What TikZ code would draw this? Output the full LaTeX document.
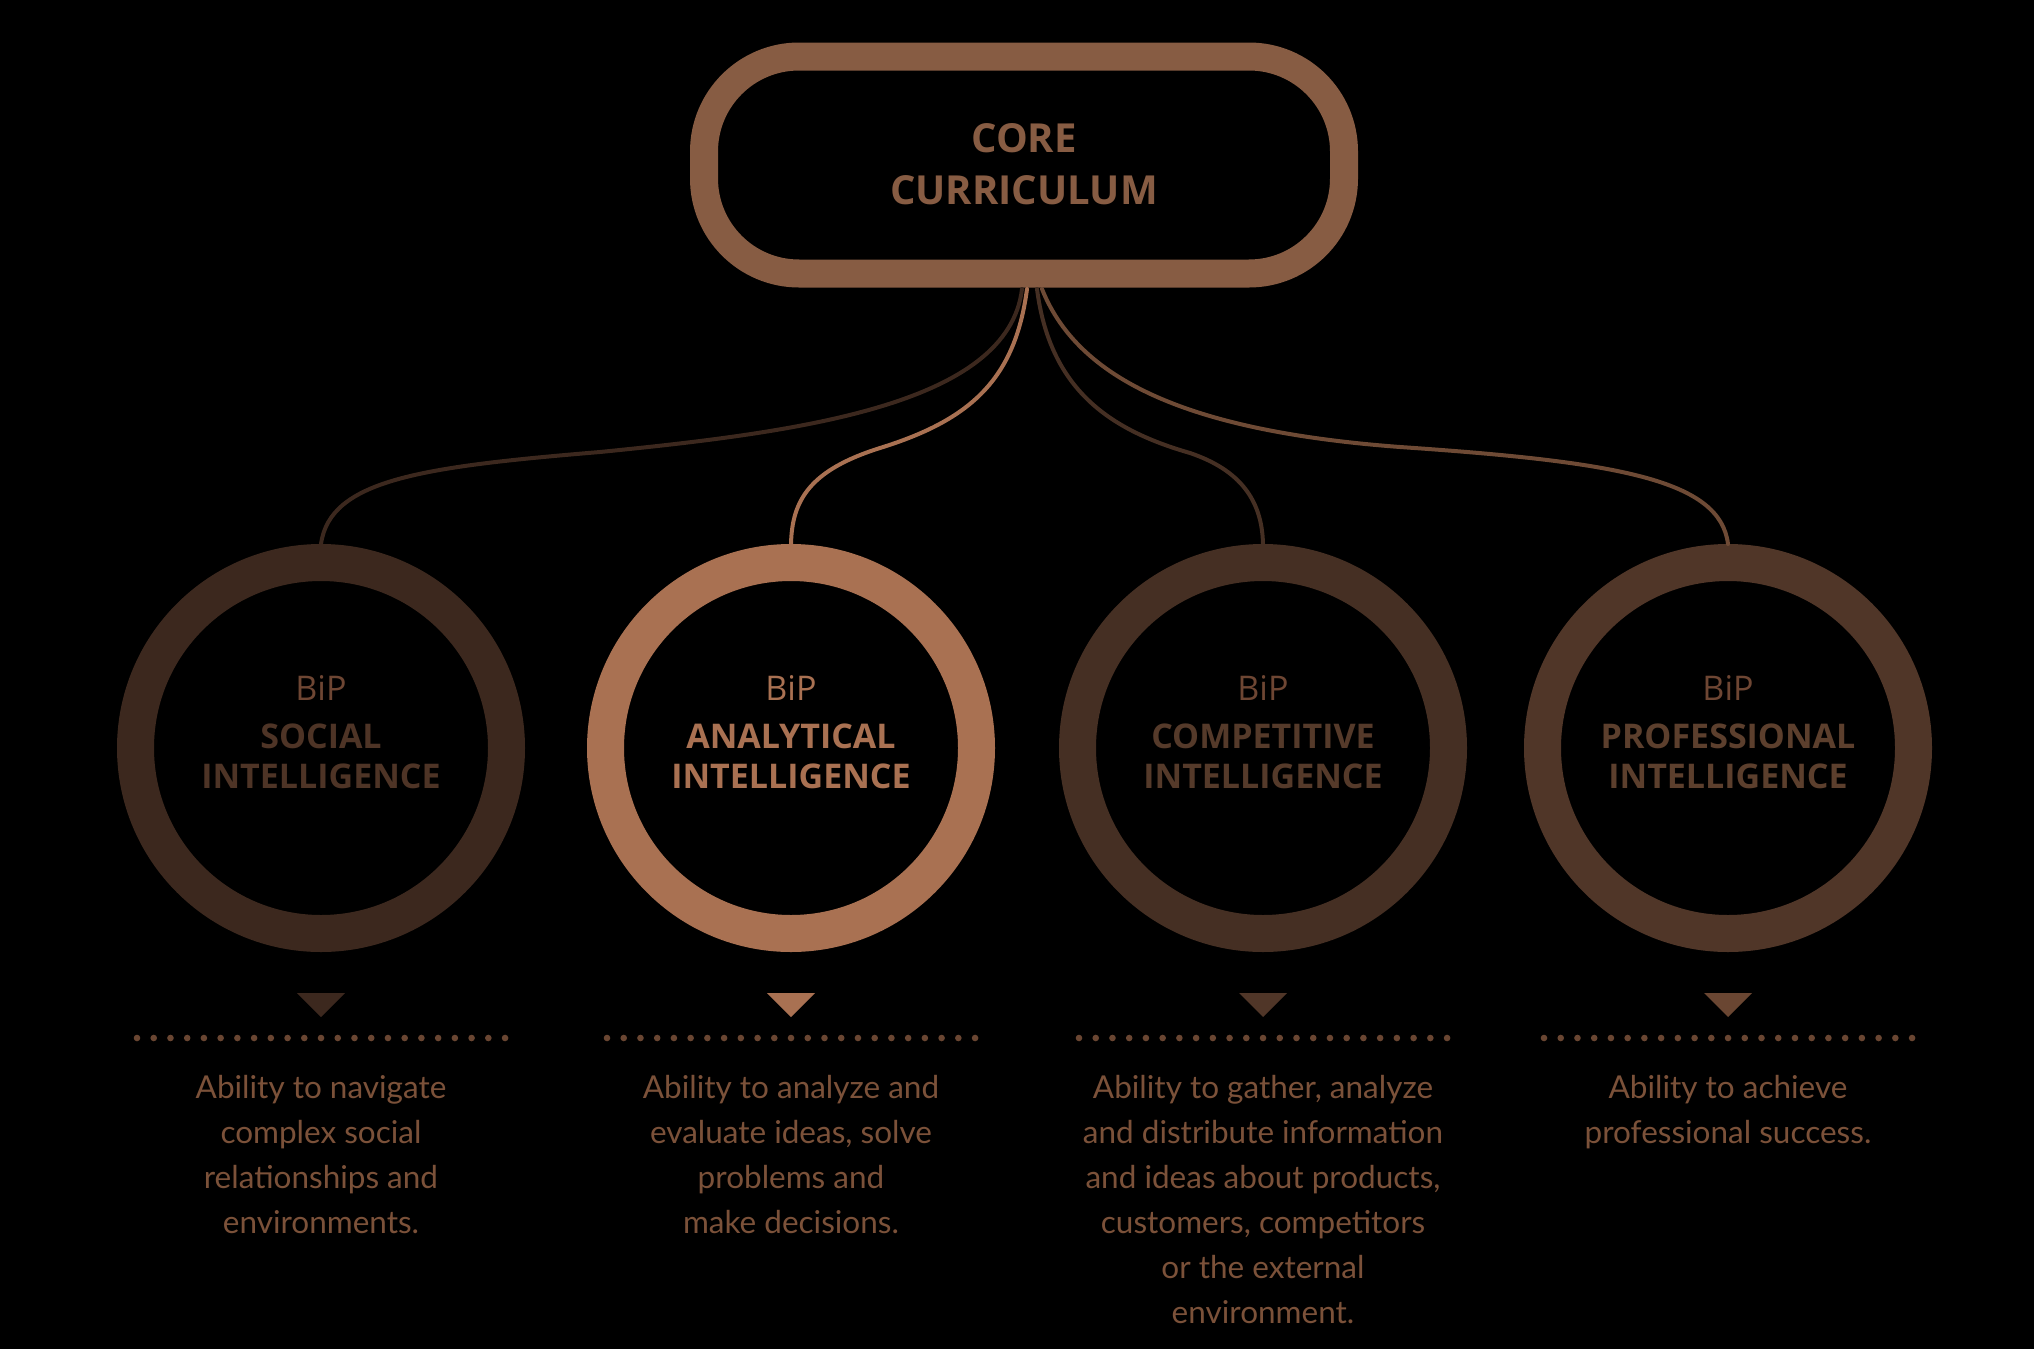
\documentclass[tikz,border=0pt]{standalone}
\usepackage{fontspec}
\setmainfont{Lato}
\newfontfamily\osans{Open Sans}
\definecolor{corec}{HTML}{875C43}
\definecolor{cA}{HTML}{3C281E}
\definecolor{cB}{HTML}{A97152}
\definecolor{cC}{HTML}{452F23}
\definecolor{cD}{HTML}{503628}
\definecolor{tA}{HTML}{4E3426}
\definecolor{tC}{HTML}{553A2A}
\definecolor{tD}{HTML}{5C3F2D}
\definecolor{bipA}{HTML}{6E4633}
\definecolor{descc}{HTML}{7B5139}
\definecolor{dotc}{HTML}{6A4632}
\definecolor{cvD}{HTML}{6E4A35}
\begin{document}
\begin{tikzpicture}[x=1pt,y=-1pt,
  corebox/.style={draw=corec, line width=28pt, rounded corners=95pt, minimum width=640pt, minimum height=217pt, inner sep=0pt},
  ring/.style={circle, line width=37pt, minimum size=371pt, inner sep=0pt},
  coretxt/.style={anchor=base, inner sep=0pt, text=corec, font=\osans\bfseries\fontsize{40}{50}\selectfont},
  bigtxt/.style={anchor=base, inner sep=0pt, font=\osans\bfseries\fontsize{34}{40}\selectfont},
  biptxt/.style={anchor=base, inner sep=0pt, font=\osans\fontsize{34}{40}\selectfont},
  desc/.style={anchor=north, align=center, inner sep=0pt, text=descc, font=\fontsize{31.5}{45}\selectfont},
  conn/.style={line width=4pt, line cap=round},
  dotc/.style={fill=dotc},
  tri/.style={line join=round}
]
\fill[black] (0,0) rectangle (2034,1349);
\useasboundingbox (0,0) rectangle (2034,1349);

% core box
\node[corebox] (core) at (1024,165) {};
\node[coretxt] (coreA) at (1024,152) {CORE};
\node[coretxt] (coreB) at (1024,204) {CURRICULUM};

% circles
\node[ring, draw=cA] (c1) at (321,748) {};
\node[ring, draw=cB] (c2) at (791,748) {};
\node[ring, draw=cC] (c3) at (1263,748) {};
\node[ring, draw=cD] (c4) at (1728,748) {};

% connectors
\coordinate (s1) at (1022,289);
\coordinate (s2) at (1027,289);
\coordinate (s3) at (1037,289);
\coordinate (s4) at (1042,289);
\coordinate (m1) at (600,452);
\coordinate (m2) at (880,448);
\coordinate (m3) at (1190,453);
\coordinate (m4) at (1400,447);
\draw[conn, draw=cA] (s1) .. controls (1008,405) and (800,432) .. (m1) .. controls (420,467) and (330,480) .. (c1.north);
\draw[conn, draw=cB] (s2) .. controls (1015,380) and (970,420) .. (m2) .. controls (810,470) and (792,500) .. (c2.north);
\draw[conn, draw=cC] (s3) .. controls (1050,390) and (1110,430) .. (m3) .. controls (1240,470) and (1262,500) .. (c3.north);
\draw[conn, draw=cvD] (s4) .. controls (1080,385) and (1200,432) .. (m4) .. controls (1620,462) and (1720,480) .. (c4.north);

% circle texts
\node[biptxt, text=bipA] (b1) at (321,700) {BiP};
\node[bigtxt, text=tA] (l1a) at (321,748) {SOCIAL};
\node[bigtxt, text=tA] (l1b) at (321,788) {INTELLIGENCE};
\node[biptxt, text=cB] (b2) at (791,700) {BiP};
\node[bigtxt, text=cB] (l2a) at (791,748) {ANALYTICAL};
\node[bigtxt, text=cB] (l2b) at (791,788) {INTELLIGENCE};
\node[biptxt, text=bipA] (b3) at (1263,700) {BiP};
\node[bigtxt, text=tC] (l3a) at (1263,748) {COMPETITIVE};
\node[bigtxt, text=tC] (l3b) at (1263,788) {INTELLIGENCE};
\node[biptxt, text=bipA] (b4) at (1728,700) {BiP};
\node[bigtxt, text=tD] (l4a) at (1728,748) {PROFESSIONAL};
\node[bigtxt, text=tD] (l4b) at (1728,788) {INTELLIGENCE};

% triangles
\fill[tri, fill=cA] (297,993) -- (345,993) -- (321,1017) -- cycle;
\fill[tri, fill=cB] (767,993) -- (815,993) -- (791,1017) -- cycle;
\fill[tri, fill=cD] (1239,993) -- (1287,993) -- (1263,1017) -- cycle;
\fill[tri, fill=dotc] (1704,993) -- (1752,993) -- (1728,1017) -- cycle;

% dotted rules
\foreach \xs in {137,607,1079,1544}{
  \foreach \i in {0,...,22}{
    \fill[dotc] (\xs+\i*16.73,1038) circle (3.3pt);
  }
}

% descriptions
\node[desc] (d1) at (321,1075) {Ability to navigate\\complex social\\relationships and\\environments.};
\node[desc] (d2) at (791,1075) {Ability to analyze and\\evaluate ideas, solve\\problems and\\make decisions.};
\node[desc] (d3) at (1263,1075) {Ability to gather, analyze\\and distribute information\\and ideas about products,\\customers, competitors\\or the external\\environment.};
\node[desc] (d4) at (1728,1075) {Ability to achieve\\professional success.};
\end{tikzpicture}
\end{document}
